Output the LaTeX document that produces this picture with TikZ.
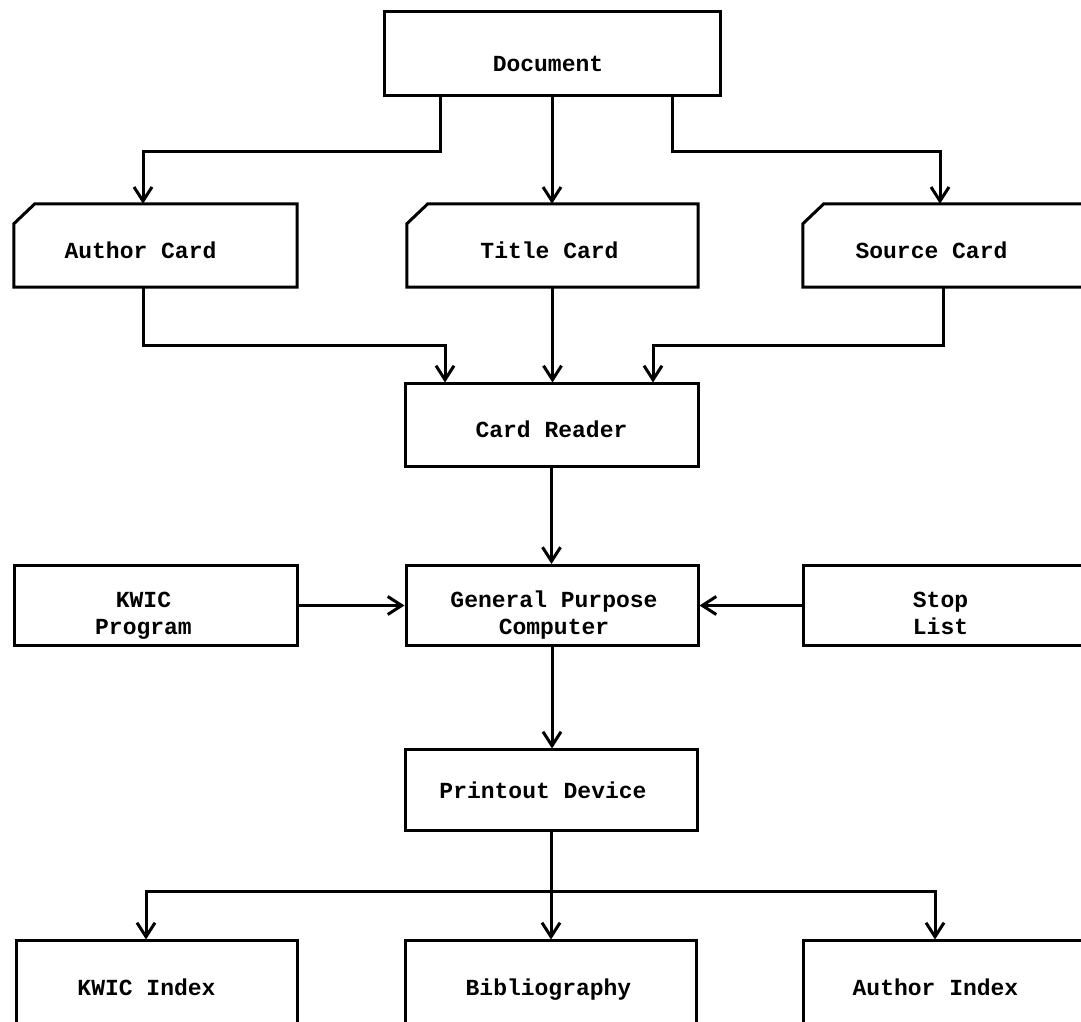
\documentclass[tikz,border=0pt]{standalone}
\usepackage{fontspec}
\setmonofont{Liberation Mono}
\usetikzlibrary{arrows.meta,calc}
\begin{document}
\begin{tikzpicture}[x=1pt,y=1pt,
  txtbase/.style={font=\ttfamily\bfseries\fontsize{23}{27}\selectfont, align=center, inner sep=0pt},
  txt/.style={txtbase, text height=16pt, text depth=5pt},
  blk/.style={draw, line width=3pt, inner sep=0pt, minimum width=#1},
  card/.style={inner sep=0pt, minimum width=#1, minimum height=83pt},
  ln/.style={line width=3pt},
  arr/.style={line width=3pt, -{Straight Barb[length=14pt,width=18pt]}},
]
\useasboundingbox (0,0) rectangle (1081,1022);
\clip (0,0) rectangle (1081,1022);

% top
\node[blk=336pt, minimum height=84pt, label={[txt,xshift=-4pt,yshift=-12pt]center:Document}] (doc) at (552,968) {};

% cards
\node[card=283pt, label={[txt,xshift=-15pt,yshift=-8pt]center:Author Card}] (author) at (155.5,776.5) {};
\node[card=291pt, label={[txt,xshift=-3pt,yshift=-8pt]center:Title Card}] (title) at (552.5,776.5) {};
\node[card=283pt, label={[txt,xshift=-13pt,yshift=-8pt]center:Source Card}] (source) at (944.5,776.5) {};
\foreach \n in {author,title,source}
  \draw[ln] ([xshift=21pt]\n.north west) -- (\n.north east) -- (\n.south east)
    -- (\n.south west) -- ([yshift=-20pt]\n.north west) -- cycle;

% card reader
\node[blk=293pt, minimum height=83pt, label={[txt,yshift=-7pt]center:Card Reader}] (reader) at (551.5,596.5) {};

% computer row
\node[blk=283pt, minimum height=80pt, label={[txtbase,xshift=-12pt,yshift=-10pt]center:KWIC\\Program}] (kprog) at (155.5,416.5) {};
\node[blk=292pt, minimum height=80pt, label={[txtbase,xshift=2pt,yshift=-10pt]center:General Purpose\\Computer}] (gpc) at (552,416.5) {};
\node[blk=283pt, minimum height=80pt, label={[txtbase,xshift=-4pt,yshift=-8pt]center:Stop\\List}] (stop) at (944.5,416.5) {};

% printout
\node[blk=292pt, minimum height=81pt, label={[txt,xshift=-8pt,yshift=-3pt]center:Printout Device}] (print) at (551,231.5) {};

% outputs
\node[blk=281pt, minimum height=83pt, label={[txt,xshift=-10pt,yshift=-8pt]center:KWIC Index}] (kidx) at (156.5,39.5) {};
\node[blk=291pt, minimum height=83pt, label={[txt,xshift=-2pt,yshift=-8pt]center:Bibliography}] (bib) at (550.5,39.5) {};
\node[blk=283pt, minimum height=83pt, label={[txt,xshift=-9pt,yshift=-8pt]center:Author Index}] (aidx) at (944.5,39.5) {};

% connectors
\draw[arr] ([xshift=-112pt]doc.south) -- ++(0,-54) -| ([xshift=-12.5pt]author.north);
\draw[arr] (doc.south) -- (doc.south |- title.north);
\draw[arr] ([xshift=120pt]doc.south) -- ++(0,-54) -| ([xshift=-4.5pt]source.north);

\draw[arr] ([xshift=-12.5pt]author.south) -- ++(0,-58) -| ([xshift=-106.5pt]reader.north);
\draw[arr] (title.south) -- (title.south |- reader.north);
\draw[arr] ([xshift=-1.5pt]source.south) -- ++(0,-58) -| ([xshift=101.5pt]reader.north);

\draw[arr] (reader.south) -- (reader.south |- gpc.north);
\draw[arr] (kprog.east) -- (gpc.west);
\draw[arr] (stop.west) -- (gpc.east);
\draw[arr] (gpc.south) -- (gpc.south |- print.north);

\coordinate (br) at ($(print.south)+(0,-59)$);
\draw[ln] (print.south) -- (br);
\draw[arr] (br) -- (br |- bib.north);
\draw[arr] (br) -| ([xshift=-10.5pt]kidx.north);
\draw[arr] (br) -| ([xshift=-9.5pt]aidx.north);
\end{tikzpicture}
\end{document}
